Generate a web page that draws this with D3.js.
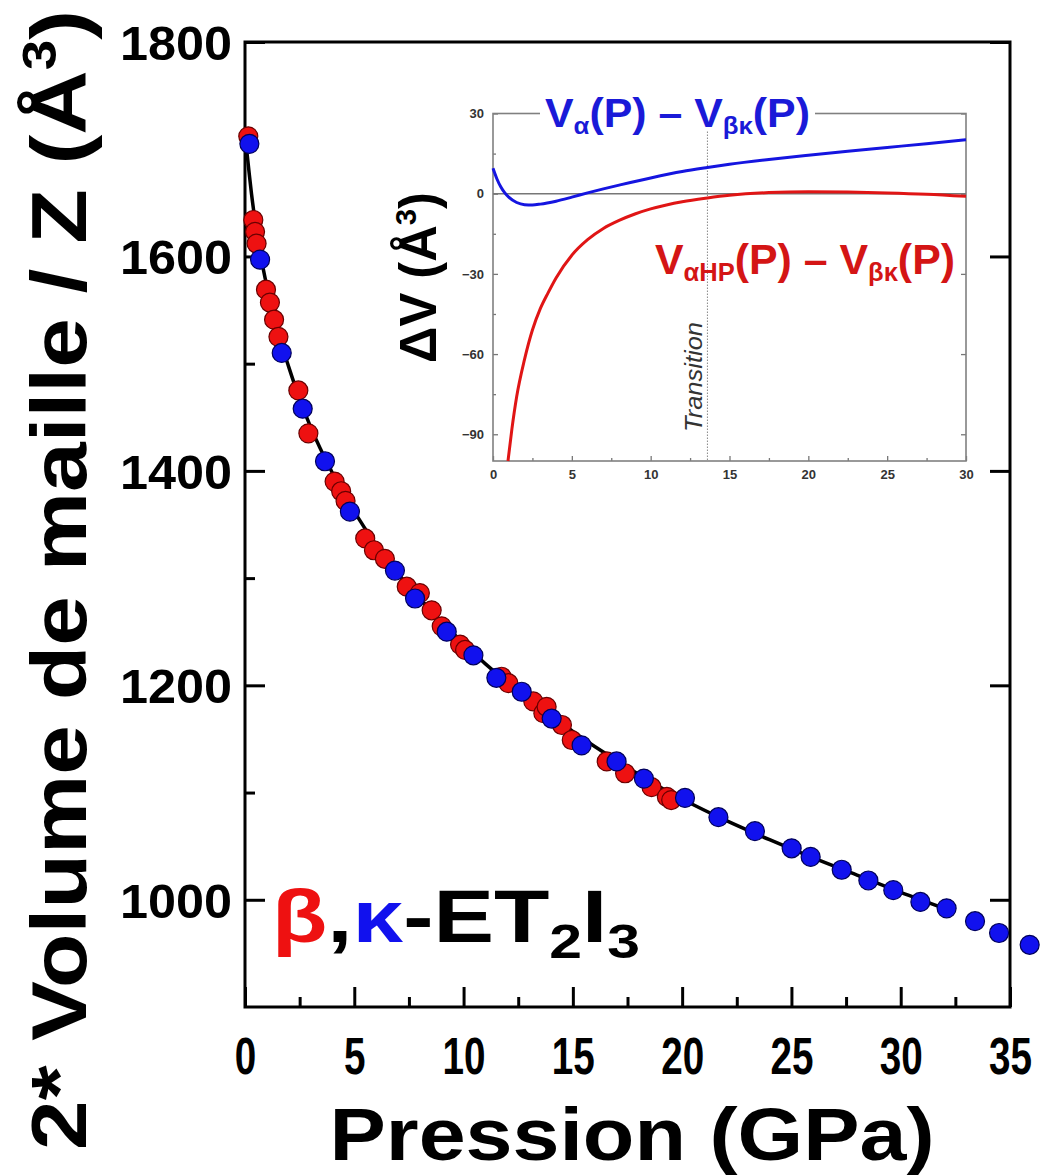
<!DOCTYPE html>
<html><head><meta charset="utf-8">
<script src="https://cdn.jsdelivr.net/npm/d3@7"></script>
<style>
html,body{margin:0;padding:0;background:#fff;}
svg text{font-family:"Liberation Sans",Arial,sans-serif;}
</style></head>
<body>
<svg id="c" width="1041" height="1176"></svg>
<script>
// ---- main data (pressure in GPa, volume in Å^3) ----
const betaP = [0.15,0.38,0.46,0.53,0.96,1.14,1.33,1.53,2.44,2.9,4.1,4.4,4.6,5.5,5.9,6.4,7.4,8.0,8.54,9.0,9.84,10.07,11.74,12.05,13.19,13.65,13.8,14.5,14.95,16.55,17.39,18.6,19.3,19.5];
const betaV = [1712,1634,1623,1612,1569,1557,1541,1525,1475,1435,1390,1381,1372,1337,1326,1318,1292,1286,1270,1255,1238,1233,1208,1202,1185,1174,1180,1163,1149,1129,1118,1105,1096,1093];
const kappaP = [0.2,0.69,1.68,2.64,3.66,4.8,6.86,7.78,9.23,10.45,11.5,12.66,14.03,15.4,17.0,18.25,20.13,21.66,23.33,25.01,25.88,27.3,28.52,29.66,30.9,32.1,33.4,34.5,35.9];
const kappaV = [1705,1597,1510,1458,1409,1362,1307,1281,1250,1228,1207,1194,1169,1144,1129,1113,1095,1077,1064,1048,1040,1028,1018,1009,998,992,980,969,958];
const fitP = [0,0.1,0.2,0.3,0.45,0.7,1,1.5,2,2.5,3,4,5,6,7,8,9,10,11,12,13,14,15,16,17,18,19,20,22,24,26,28,30,32];
const fitV = [1715,1695,1676,1658,1635,1603,1572,1530,1497,1467,1441,1398,1362,1331,1304,1281,1259,1239,1220,1203,1187,1172,1157,1143,1130,1117,1105,1094,1074,1056,1039,1023,1007,992];
const xTicks = [0,5,10,15,20,25,30,35];
const xMinor = [2.5,7.5,12.5,17.5,22.5,27.5,32.5];
const yTicks = [1000,1200,1400,1600,1800];
const yMinor = [1100,1300,1500,1700];

// ---- inset data ----
const insetBlueP = [0,0.25,0.5,0.75,1,1.5,2,2.5,3,4,5,6,7,8,10,12,13.6,15,17.5,20,22.5,25,27.5,30];
const insetBlueDV = [9.5,5.5,2.5,0.3,-1.3,-3.3,-4.1,-4.2,-3.9,-2.8,-1.3,0.3,1.8,3.2,5.9,8.3,9.8,11,12.8,14.4,15.9,17.3,18.7,20.2];
const insetRedP = [0.95,1.2,1.5,2,2.5,3,3.5,4,5,6,7,8,9,10,11,12,13.6,15,17.5,20,22.5,25,27.5,30];
const insetRedDV = [-100,-88,-76,-62,-51,-43,-37,-31.5,-23,-17.2,-13,-10,-7.6,-5.7,-4.2,-3,-1.6,-0.6,0.4,0.7,0.6,0.3,-0.2,-1.0];
const transitionP = 13.6;
const insetXTicks = [0,5,10,15,20,25,30];
const insetXMinor = [2.5,7.5,12.5,17.5,22.5,27.5];
const insetYTicks = [30,0,-30,-60,-90];
const insetYMinor = [15,-15,-45,-75];

const svg = d3.select("#c");
const x = d3.scaleLinear([0,35],[245,1010]);
const y = d3.scaleLinear([900,1800],[1007,42]);

// main axes
function styleAxis(g, sw){ g.select(".domain").remove(); g.selectAll(".tick line").attr("stroke","#000").attr("stroke-width",sw); }

const gx = svg.append("g").attr("transform","translate(0,1007)")
  .call(d3.axisBottom(x).tickValues(xTicks).tickSize(-20).tickPadding(30).tickFormat(d3.format("d")));
styleAxis(gx,3);
gx.selectAll("text").attr("font-size",52).attr("font-weight","bold").attr("fill","#000")
  .attr("textLength",function(d){return String(d).length*21.5;}).attr("lengthAdjust","spacingAndGlyphs");
const gxm = svg.append("g").attr("transform","translate(0,1007)")
  .call(d3.axisBottom(x).tickValues(xMinor).tickSize(-10).tickFormat(""));
styleAxis(gxm,3);

const gy = svg.append("g").attr("transform","translate(245,0)")
  .call(d3.axisLeft(y).tickValues(yTicks).tickSize(-20).tickPadding(13).tickFormat(d3.format("d")));
styleAxis(gy,3);
gy.selectAll("text").attr("font-size",48).attr("font-weight","bold").attr("fill","#000").attr("dy","0.36em")
  .attr("textLength",112).attr("lengthAdjust","spacingAndGlyphs");
const gym = svg.append("g").attr("transform","translate(245,0)")
  .call(d3.axisLeft(y).tickValues(yMinor).tickSize(-10).tickFormat(""));
styleAxis(gym,3);
const gyr = svg.append("g").attr("transform","translate(1010,0)")
  .call(d3.axisRight(y).tickValues(yTicks).tickSize(-20).tickFormat(""));
styleAxis(gyr,3);

svg.append("rect").attr("x",245).attr("y",42).attr("width",765).attr("height",965)
  .attr("fill","none").attr("stroke","#000").attr("stroke-width",3);

// fit curve
const line = d3.line().x(d=>x(d[0])).y(d=>y(d[1])).curve(d3.curveMonotoneX);
svg.append("path").datum(fitP.map((p,i)=>[p,fitV[i]])).attr("d",line)
  .attr("fill","none").attr("stroke","#000").attr("stroke-width",3.5);

// points
svg.append("g").selectAll("circle").data(betaP.map((p,i)=>[p,betaV[i]])).join("circle")
  .attr("cx",d=>x(d[0])).attr("cy",d=>y(d[1])).attr("r",9.5)
  .attr("fill","#ee1111").attr("stroke","#6a0000").attr("stroke-width",1.2);
svg.append("g").selectAll("circle").data(kappaP.map((p,i)=>[p,kappaV[i]])).join("circle")
  .attr("cx",d=>x(d[0])).attr("cy",d=>y(d[1])).attr("r",9.5)
  .attr("fill","#1111ee").attr("stroke","#00005a").attr("stroke-width",1.2);

// axis titles
const yt = svg.append("text").attr("transform","translate(86,1150) rotate(-90)")
  .attr("font-size",78).attr("font-weight","bold").attr("fill","#000")
  .attr("textLength",1140).attr("lengthAdjust","spacingAndGlyphs");
yt.append("tspan").text("2* Volume de maille / Z (Å");
yt.append("tspan").attr("font-size",48).attr("dy",-30).text("3");
yt.append("tspan").attr("dy",30).text(")");

svg.append("text").attr("x",632).attr("y",1160).attr("text-anchor","middle")
  .attr("font-size",74).attr("font-weight","bold").attr("fill","#000")
  .attr("textLength",605).attr("lengthAdjust","spacingAndGlyphs")
  .text("Pression (GPa)");

// compound label
const lab = svg.append("text").attr("x",272).attr("y",942).attr("font-size",74).attr("font-weight","bold")
  .attr("textLength",368).attr("lengthAdjust","spacingAndGlyphs");
lab.append("tspan").attr("fill","#ee1111").text("β");
lab.append("tspan").attr("fill","#000").text(",");
lab.append("tspan").attr("fill","#1111ee").text("κ");
lab.append("tspan").attr("fill","#000").text("-ET");
lab.append("tspan").attr("fill","#000").attr("font-size",48).attr("dy",16).text("2");
lab.append("tspan").attr("fill","#000").attr("dy",-16).text("I");
lab.append("tspan").attr("fill","#000").attr("font-size",48).attr("dy",16).text("3");

// ---- inset ----
const ix = d3.scaleLinear([0,30],[493,966]);
const iy = d3.scaleLinear([-100,30],[461,113.5]);
const ins = svg.append("g");
ins.append("rect").attr("x",493).attr("y",113.5).attr("width",473).attr("height",347.5).attr("fill","#fff");

function styleInset(g){ g.select(".domain").remove(); g.selectAll(".tick line").attr("stroke","#777").attr("stroke-width",1.3);
  g.selectAll("text").attr("font-size",13).attr("font-weight","bold").attr("fill","#333"); }
const ixa = ins.append("g").attr("transform","translate(0,461)")
  .call(d3.axisBottom(ix).tickValues(insetXTicks).tickSize(-5).tickPadding(9).tickFormat(d3.format("d")));
styleInset(ixa);
const ixm = ins.append("g").attr("transform","translate(0,461)")
  .call(d3.axisBottom(ix).tickValues(insetXMinor).tickSize(-3).tickFormat(""));
styleInset(ixm);
const iya = ins.append("g").attr("transform","translate(493,0)")
  .call(d3.axisLeft(iy).tickValues(insetYTicks).tickSize(-5).tickPadding(9).tickFormat(d3.format("d")));
styleInset(iya);
const iym = ins.append("g").attr("transform","translate(493,0)")
  .call(d3.axisLeft(iy).tickValues(insetYMinor).tickSize(-3).tickFormat(""));
styleInset(iym);
const iyr = ins.append("g").attr("transform","translate(966,0)")
  .call(d3.axisRight(iy).tickValues(insetYTicks).tickSize(-5).tickFormat(""));
styleInset(iyr);

ins.append("rect").attr("x",493).attr("y",113.5).attr("width",473).attr("height",347.5)
  .attr("fill","none").attr("stroke","#808080").attr("stroke-width",1.6);

// zero line & transition
ins.append("line").attr("x1",ix(0)).attr("x2",ix(30)).attr("y1",iy(0)).attr("y2",iy(0))
  .attr("stroke","#777").attr("stroke-width",1.5);
ins.append("line").attr("x1",ix(transitionP)).attr("x2",ix(transitionP)).attr("y1",iy(30)).attr("y2",iy(-100))
  .attr("stroke","#888").attr("stroke-width",1).attr("stroke-dasharray","1.5,1.5");
ins.append("text").attr("transform",`translate(${ix(transitionP)-5},432) rotate(-90)`)
  .attr("font-size",24).attr("font-style","italic").attr("fill","#333")
  .attr("textLength",110).attr("lengthAdjust","spacingAndGlyphs").text("Transition");

const iline = d3.line().x(d=>ix(d[0])).y(d=>iy(d[1])).curve(d3.curveMonotoneX);
ins.append("path").datum(insetBlueP.map((p,i)=>[p,insetBlueDV[i]])).attr("d",iline)
  .attr("fill","none").attr("stroke","#1515e0").attr("stroke-width",3);
ins.append("path").datum(insetRedP.map((p,i)=>[p,insetRedDV[i]])).attr("d",iline)
  .attr("fill","none").attr("stroke","#e01515").attr("stroke-width",3);

// inset titles
ins.append("rect").attr("x",540).attr("y",100).attr("width",275).attr("height",30).attr("fill","#fff");
const bt = ins.append("text").attr("x",545).attr("y",127).attr("font-size",40).attr("font-weight","bold").attr("fill","#1a1ad8")
  .attr("textLength",265).attr("lengthAdjust","spacingAndGlyphs");
bt.append("tspan").text("V");
bt.append("tspan").attr("font-size",24).attr("dy",7).text("α");
bt.append("tspan").attr("dy",-7).text("(P) – V");
bt.append("tspan").attr("font-size",24).attr("dy",7).text("βκ");
bt.append("tspan").attr("dy",-7).text("(P)");

const rt = ins.append("text").attr("x",655).attr("y",274).attr("font-size",42).attr("font-weight","bold").attr("fill","#d41515")
  .attr("textLength",300).attr("lengthAdjust","spacingAndGlyphs");
rt.append("tspan").text("V");
rt.append("tspan").attr("font-size",25).attr("dy",7).text("αHP");
rt.append("tspan").attr("dy",-7).text("(P) – V");
rt.append("tspan").attr("font-size",25).attr("dy",7).text("βκ");
rt.append("tspan").attr("dy",-7).text("(P)");

// inset y title
const dv = svg.append("text").attr("transform","translate(436,363) rotate(-90)")
  .attr("font-size",52).attr("font-weight","bold").attr("fill","#000")
  .attr("textLength",171).attr("lengthAdjust","spacingAndGlyphs");
dv.append("tspan").text("ΔV (Å");
dv.append("tspan").attr("font-size",30).attr("dy",-20).text("3");
dv.append("tspan").attr("dy",20).text(")");
</script>
</body></html>
